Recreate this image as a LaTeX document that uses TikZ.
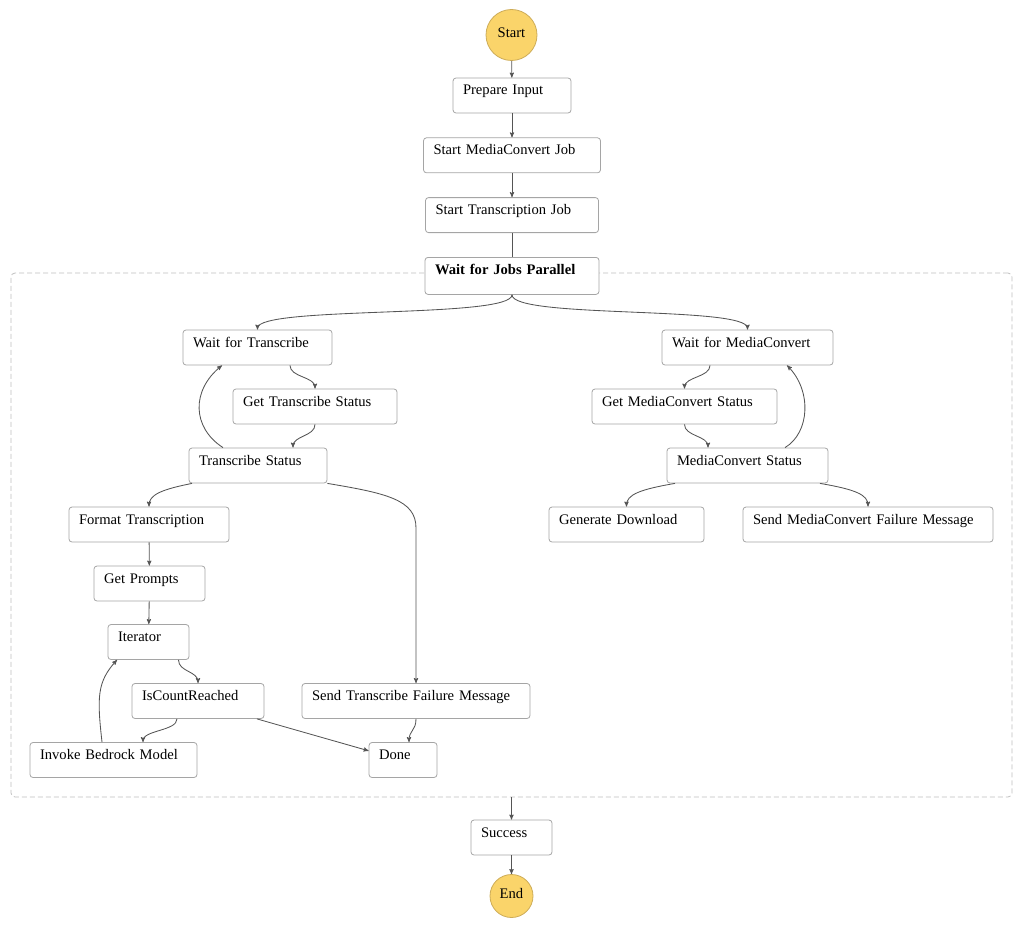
\documentclass[tikz,border=0pt]{standalone}
\usepackage{fontspec}
\setmainfont{Liberation Serif}
\usepackage{tikz}
\usetikzlibrary{positioning}
\usetikzlibrary{arrows}

\definecolor{boxgray}{RGB}{165,165,165}
\definecolor{linegray}{RGB}{85,85,85}
\definecolor{dashgray}{RGB}{190,190,190}
\definecolor{endfill}{RGB}{250,212,106}
\definecolor{enddraw}{RGB}{205,172,88}

\begin{document}
\begin{tikzpicture}[x=1pt,y=-1pt,>=stealth',
		task node/.style={draw=boxgray,fill=white,rounded corners=3pt,line width=0.8pt,
			align=left,inner xsep=10pt,inner ysep=4pt,text height=13pt,text depth=14pt,
			font=\fontsize{14.6}{18}\selectfont},
		terminal node/.style={circle,draw=enddraw,fill=endfill,line width=0.8pt,
			minimum size=#1,inner sep=0pt,text height=10pt,text depth=5pt,
			font=\fontsize{14.6}{18}\selectfont},
		flow/.style={->,draw=linegray,line width=0.85pt}]
		
		\useasboundingbox (0,0) rectangle (1024,931);
		
		% parallel frame
		\node[draw=dashgray,line width=0.8pt,dash pattern=on 5pt off 3pt,rounded corners=4pt,
			minimum width=1001pt,minimum height=524pt,inner sep=0pt] (par) at (511.5,535) {};
		
		% main chain
		\node[terminal node=51pt] (start) at (511.5,35) {Start};
		\node[task node, text width=98pt] (prep) at (512,95.5) {Prepare Input};
		\node[task node, text width=157pt] (smc) [below=24pt of prep] {Start MediaConvert Job};
		\node[task node, text width=153pt] (stj) [below=24pt of smc] {Start Transcription Job};
		\node[task node, text width=154pt, text depth=16pt] (wfjp) [below=24pt of stj] {\textbf{Wait for Jobs Parallel}};
		
		% transcribe branch
		\node[task node, text width=129pt] (wft) at (257.5,347.5) {Wait for Transcribe};
		\node[task node, text width=144pt] (gts) at (315,406.5) {Get Transcribe Status};
		\node[task node, text width=118pt] (ts) at (258,465.5) {Transcribe Status};
		\node[task node, text width=140pt] (fmt) at (149,524.5) {Format Transcription};
		\node[task node, text width=91pt] (gp) at (149.5,583.5) {Get Prompts};
		\node[task node, text width=61pt] (it) at (148.5,642) {Iterator};
		\node[task node, text width=112pt] (icr) at (198,701) {IsCountReached};
		\node[task node, text width=147pt] (ibm) at (113.5,760) {Invoke Bedrock Model};
		\node[task node, text width=208pt] (stf) at (416,701) {Send Transcribe Failure Message};
		\node[task node, text width=48pt] (done) at (403,760) {Done};
		
		% mediaconvert branch
		\node[task node, text width=151pt] (wfm) at (747.5,347.5) {Wait for MediaConvert};
		\node[task node, text width=165pt] (gms) at (684.5,406.5) {Get MediaConvert Status};
		\node[task node, text width=141pt] (ms) at (747.5,465.5) {MediaConvert Status};
		\node[task node, text width=135pt] (gd) at (626.5,524.5) {Generate Download};
		\node[task node, text width=230pt] (smf) at (868,524.5) {Send MediaConvert Failure Message};
		
		\node[task node, text width=61pt] (succ) at (511.5,837.5) {Success};
		\node[terminal node=43pt] (endn) at (511.5,896) {End};
		
		\coordinate (bend) at (416,528);
		
		\path[every edge/.style={flow}]
		(start) edge (prep)
		(prep) edge (smc)
		(smc) edge (stj)
		(stj) edge[-] (wfjp)
		(fmt) edge (gp)
		(gp) edge (it)
		([xshift=59pt]icr.south) edge (done.165)
		(par.south) edge (succ)
		(succ) edge (endn);
		
		\draw[flow] (wfjp.south) .. controls +(0,24) and +(0,-24) .. (wft.north);
		\draw[flow] (wfjp.south) .. controls +(0,24) and +(0,-24) .. (wfm.north);
		\draw[flow] ([xshift=32.5pt]wft.south) .. controls +(0,12) and +(0,-12) .. (gts.north);
		\draw[flow] (gts.south) .. controls +(0,12) and +(0,-12) .. ([xshift=35pt]ts.north);
		\draw[flow] ([xshift=-35pt]ts.north) .. controls +(-31,-20) and +(-31,25) .. ([xshift=-35.5pt]wft.south);
		\draw[flow] ([xshift=-66pt]ts.south) .. controls +(-30,6) and +(0,-12) .. (fmt.north);
		\draw[flow] (ts.south east) .. controls +(60,10) and +(0,-28) .. (bend) -- (stf.north);
		\draw[flow] ([xshift=30pt]it.south) .. controls +(0,12) and +(0,-12) .. (icr.north);
		\draw[flow] ([xshift=-21pt]icr.south) .. controls +(0,12) and +(0,-12) .. ([xshift=29.5pt]ibm.north);
		\draw[flow] ([xshift=-11.5pt]ibm.north) .. controls +(-5,-45) and +(-20,22) .. ([xshift=-31.5pt]it.south);
		\draw[flow] (stf.south) .. controls +(0,12) and +(0,-12) .. ([xshift=6pt]done.north);
		\draw[flow] ([xshift=-37.5pt]wfm.south) .. controls +(0,12) and +(0,-12) .. (gms.north);
		\draw[flow] (gms.south) .. controls +(0,12) and +(0,-12) .. ([xshift=-39.5pt]ms.north);
		\draw[flow] ([xshift=37.5pt]ms.north) .. controls +(25,-15) and +(25,25) .. ([xshift=39.5pt]wfm.south);
		\draw[flow] ([xshift=-72.5pt]ms.south) .. controls +(-35,6) and +(0,-12) .. (gd.north);
		\draw[flow] ([xshift=72.5pt]ms.south) .. controls +(35,6) and +(0,-12) .. (smf.north);
		\end{tikzpicture}
\end{document}
